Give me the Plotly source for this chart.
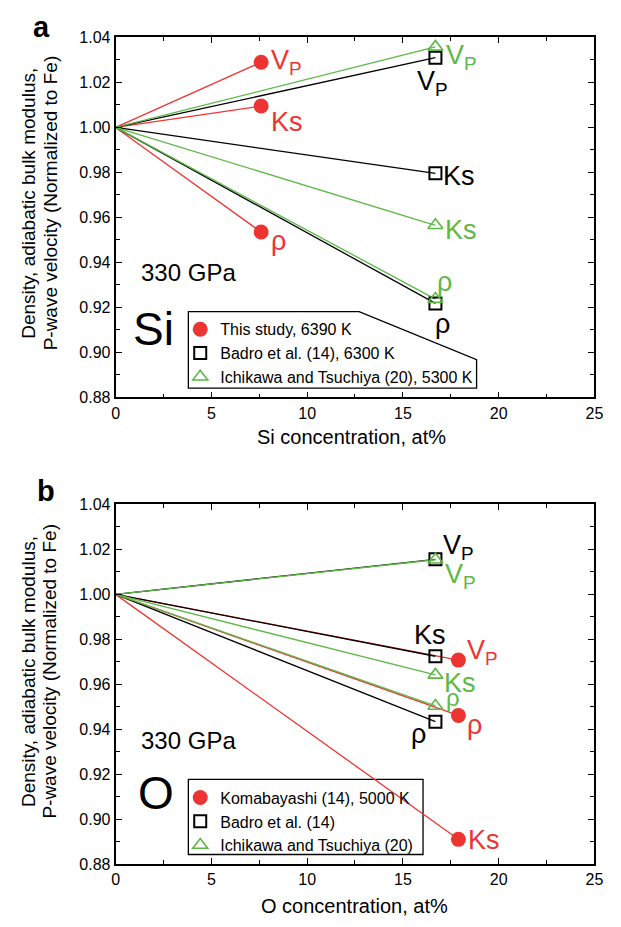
import plotly.graph_objects as go

# ---------------- data ----------------
props = ["VP", "Ks", "rho"]

# Panel a: Si
si_this_x = 7.6
si_this = [1.029, 1.0095, 0.9535]          # VP, Ks, rho
si_badro_x = 16.7
si_badro = [1.031, 0.9796, 0.9218]
si_ichi_x = 16.7
si_ichi = [1.0358, 0.9565, 0.9237]

# Panel b: O
o_koma_x = 17.9
o_koma = [0.9708, 0.8911, 0.9462]
o_badro_x = 16.7
o_badro = [1.0156, 0.9725, 0.9434]
o_ichi_x = 16.7
o_ichi = [1.0154, 0.9642, 0.9504]

x_ticks = [0, 5, 10, 15, 20, 25]
y_ticks = [0.88, 0.90, 0.92, 0.94, 0.96, 0.98, 1.00, 1.02, 1.04]

RED = "#EE3433"
GREEN = "#5DB847"
BLACK = "#000000"
FONT = "Liberation Sans, Arial, sans-serif"

W, H = 621, 927


def px(x):
    return x / W


def py(y):
    return 1 - y / H


fig = go.Figure()

series = {
    "a": [
        ("This study, 6390 K", si_this_x, si_this, RED, "circle"),
        ("Badro et al. (14), 6300 K", si_badro_x, si_badro, BLACK, "square-open"),
        ("Ichikawa and Tsuchiya (20), 5300 K", si_ichi_x, si_ichi, GREEN, "triangle-up-open"),
    ],
    "b": [
        ("Komabayashi (14), 5000 K", o_koma_x, o_koma, RED, "circle"),
        ("Badro et al. (14)", o_badro_x, o_badro, BLACK, "square-open"),
        ("Ichikawa and Tsuchiya (20)", o_ichi_x, o_ichi, GREEN, "triangle-up-open"),
    ],
}

axes = {"a": ("x", "y", "legend"), "b": ("x2", "y2", "legend2")}

for panel, lst in series.items():
    xa, ya, lg = axes[panel]
    # lines
    for name, xv, vals, col, sym in lst:
        for v in vals:
            fig.add_trace(go.Scatter(x=[0, xv], y=[1.0, v], mode="lines",
                                     line=dict(color=col, width=1.3),
                                     xaxis=xa, yaxis=ya, showlegend=False,
                                     hoverinfo="skip"))
    # markers
    for name, xv, vals, col, sym in lst:
        if sym == "circle":
            mk = dict(symbol=sym, size=15, color=col, line=dict(width=0))
        elif sym == "square-open":
            mk = dict(symbol=sym, size=12, color=col, line=dict(width=2, color=col))
        else:
            mk = dict(symbol=sym, size=13, color=col, line=dict(width=1.6, color=col))
        fig.add_trace(go.Scatter(x=[xv] * len(vals), y=vals, mode="markers",
                                 marker=mk, name=name, xaxis=xa, yaxis=ya,
                                 legend=lg, showlegend=True))

# ---------------- axes ----------------
ax_common = dict(showline=True, linecolor="black", linewidth=1.8, mirror="ticks",
                 ticks="inside", ticklen=6, tickwidth=1.3, tickcolor="black",
                 showgrid=False, zeroline=False,
                 tickfont=dict(family=FONT, size=16, color="black"))
xdom = [px(114), px(603)]
minor_x = dict(dtick=2.5, ticks="inside", ticklen=4, tickwidth=1.3, tickcolor="black")
minor_y = dict(dtick=0.01, ticks="inside", ticklen=4, tickwidth=1.3, tickcolor="black")
fig.update_layout(
    xaxis=dict(domain=xdom, range=[0, 25], tickvals=x_ticks, anchor="y",
               minor=minor_x, **ax_common),
    yaxis=dict(domain=[py(396.7), py(30)], range=[0.88, 1.04], tickvals=y_ticks,
               tickformat=".2f", anchor="x", minor=minor_y, **ax_common),
    xaxis2=dict(domain=xdom, range=[0, 25], tickvals=x_ticks, anchor="y2",
                minor=minor_x, **ax_common),
    yaxis2=dict(domain=[py(872.3), py(505.7)], range=[0.88, 1.04], tickvals=y_ticks,
                tickformat=".2f", anchor="x2", minor=minor_y, **ax_common),
)

# ---------------- legends ----------------
leg_common = dict(xanchor="left", yanchor="top", bgcolor="rgba(0,0,0,0)",
                  borderwidth=0, font=dict(family=FONT, size=16, color="black"),
                  tracegroupgap=0, itemsizing="trace")
fig.update_layout(
    legend=dict(x=px(180), y=py(310), **leg_common),
    legend2=dict(x=px(180), y=py(787), **leg_common),
)

# legend frames
poly = "M {} {} L {} {} L {} {} L {} {} L {} {} Z".format(
    px(188.3), py(309.3), px(362.7), py(309.3), px(482.7), py(358.3),
    px(482.7), py(387.3), px(188.3), py(387.3))
shapes = [
    dict(type="path", xref="paper", yref="paper", path=poly,
         line=dict(color="black", width=1.3), fillcolor="white", layer="below"),
    dict(type="rect", xref="paper", yref="paper", x0=px(188.3), x1=px(428),
         y0=py(862.3), y1=py(785.7), line=dict(color="black", width=1.3),
         fillcolor="white", layer="below"),
]

# ---------------- annotations ----------------
ann = []


def txt(text, x, y, size, color="black", xanchor="center", yanchor="middle",
        bold=False, angle=0):
    t = "<b>" + text + "</b>" if bold else text
    ann.append(dict(text=t, x=px(x), y=py(y), xref="paper", yref="paper",
                    xanchor=xanchor, yanchor=yanchor, showarrow=False,
                    textangle=angle, font=dict(family=FONT, size=size, color=color)))


VP = "V<sub>P</sub>"
LBL = {"VP": VP, "Ks": "Ks", "rho": "ρ"}


def lab(xa, ya, xv, yv, key, color, dx, dy, xanchor="left", size=27):
    ann.append(dict(text=LBL[key], x=xv, y=yv, xref=xa, yref=ya, showarrow=False,
                    xanchor=xanchor, yanchor="middle", xshift=dx, yshift=dy,
                    font=dict(family=FONT, size=size, color=color)))


# panel a labels
lab("x", "y", si_this_x, si_this[0], "VP", RED, 8, 0)
lab("x", "y", si_this_x, si_this[1], "Ks", RED, 8, -16)
lab("x", "y", si_this_x, si_this[2], "rho", RED, 8, -9)
lab("x", "y", si_badro_x, si_badro[0], "VP", BLACK, -3, -25, "center")
lab("x", "y", si_ichi_x, si_ichi[0], "VP", GREEN, 9, -10)
lab("x", "y", si_badro_x, si_badro[1], "Ks", BLACK, 6, -3)
lab("x", "y", si_ichi_x, si_ichi[1], "Ks", GREEN, 8, -5)
lab("x", "y", si_ichi_x, si_ichi[2], "rho", GREEN, 9, 17, "center")
lab("x", "y", si_badro_x, si_badro[2], "rho", BLACK, 7, -21, "center")

# panel b labels
lab("x2", "y2", o_badro_x, o_badro[0], "VP", BLACK, 6, 12)
lab("x2", "y2", o_ichi_x, o_ichi[0], "VP", GREEN, 8, -16)
lab("x2", "y2", o_badro_x, o_badro[1], "Ks", BLACK, -5, 21, "center")
lab("x2", "y2", o_koma_x, o_koma[0], "VP", RED, 7, 8)
lab("x2", "y2", o_ichi_x, o_ichi[1], "Ks", GREEN, 7, -8)
lab("x2", "y2", o_ichi_x, o_ichi[2], "rho", GREEN, 9, 8, size=24)
lab("x2", "y2", o_koma_x, o_koma[2], "rho", RED, 7, -10)
lab("x2", "y2", o_badro_x, o_badro[2], "rho", BLACK, -7, -12, "right")
lab("x2", "y2", o_koma_x, o_koma[1], "Ks", RED, 8, -1)

# titles and other text
txt("a", 38, 19, 29, bold=True)
txt("b", 43, 492, 29, bold=True)
for yc in (199, 676):
    txt("Density, adiabatic bulk modulus,", 25, yc, 19, angle=-90)
    txt("P-wave velocity (Normalized to Fe)", 47, yc, 19, angle=-90)
txt("Si concentration, at%", 355, 437, 20)
txt("O concentration, at%", 358, 915, 20)
txt("330 GPa", 188, 269, 24)
txt("330 GPa", 188, 746, 24)
txt("Si", 153, 327, 46)
txt("O", 155, 800, 46)

fig.update_layout(
    width=W, height=H, margin=dict(l=0, r=0, t=0, b=0),
    paper_bgcolor="white", plot_bgcolor="white",
    annotations=ann, shapes=shapes,
    font=dict(family=FONT, color="black"),
)

fig.write_html("out.html")
